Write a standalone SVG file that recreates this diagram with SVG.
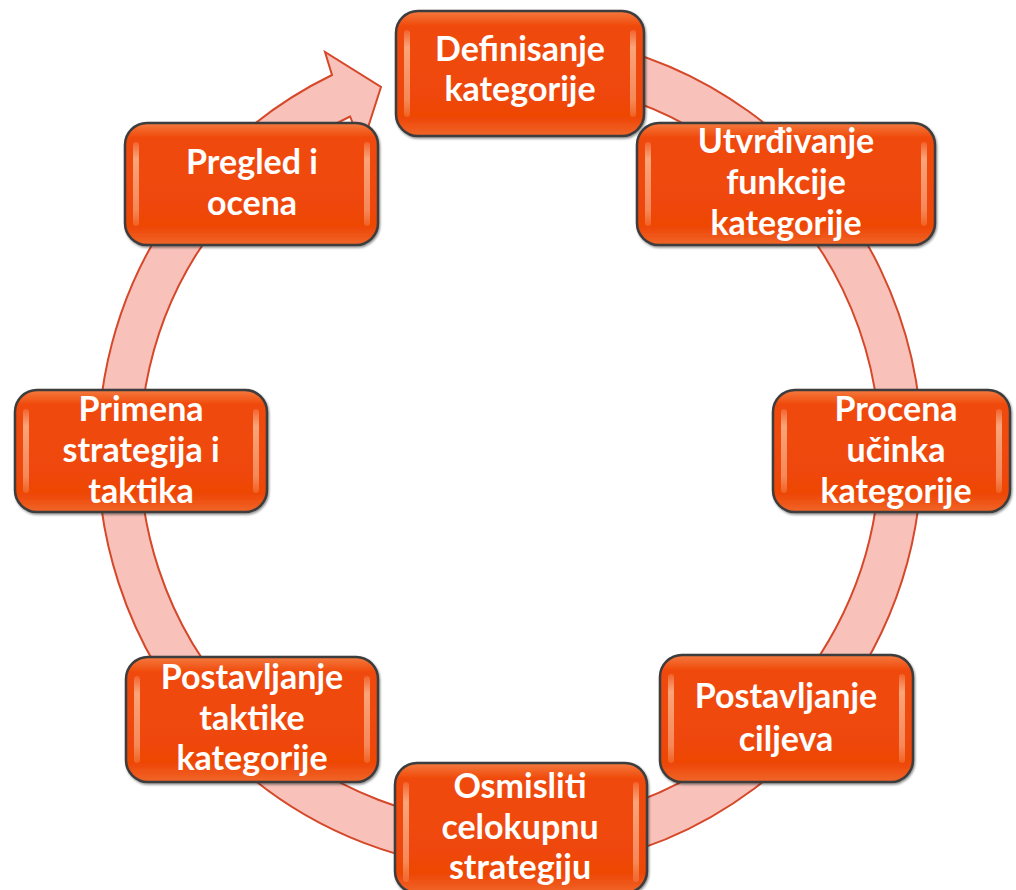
<svg xmlns="http://www.w3.org/2000/svg" width="1016" height="890" viewBox="0 0 1016 890">
<defs>
<linearGradient id="boxGrad" x1="0" y1="0" x2="0" y2="1">
<stop offset="0" stop-color="#F47A40"/>
<stop offset="0.12" stop-color="#F04A0A"/>
<stop offset="0.85" stop-color="#EE4606"/>
<stop offset="1" stop-color="#F0662A"/>
</linearGradient>
<linearGradient id="hl" x1="0" y1="0" x2="0" y2="1">
<stop offset="0" stop-color="#FBC3A0" stop-opacity="0.2"/>
<stop offset="0.2" stop-color="#FBB48C" stop-opacity="0.85"/>
<stop offset="0.8" stop-color="#FBB48C" stop-opacity="0.6"/>
<stop offset="1" stop-color="#FBC3A0" stop-opacity="0.2"/>
</linearGradient>
<filter id="sh" x="-10%" y="-10%" width="120%" height="120%">
<feDropShadow dx="1" dy="1.5" stdDeviation="1.2" flood-color="#000" flood-opacity="0.45"/>
</filter>
</defs>
<style>
.box{fill:url(#boxGrad);stroke:#3C3C3C;stroke-width:2.5;filter:url(#sh)}
.hl{fill:url(#hl)}
.t{font-family:Lato,"Open Sans","Liberation Sans",sans-serif;font-weight:700;font-size:34px;fill:#FFFFFF;text-anchor:middle}
.ring{fill:#F8C2BA;stroke:#D5482A;stroke-width:2}
</style>
<rect width="1016" height="890" fill="#FFFFFF"/>
<g id="connectors">
<path class="ring" d="M581.5 40.4 A412 418 0 1 1 332 75 L325 52 L381 87 L362 146 L350.1 116.5 A370 372 0 1 0 574.2 85.7 Z"/>
</g>
<g id="n1">
<rect class="box" x="396" y="11" width="248" height="125" rx="22"/>
<rect class="hl" x="404" y="30" width="6" height="87" rx="3"/>
<rect class="hl" x="630" y="30" width="6" height="87" rx="3"/>
<text class="t" x="520" y="61">Definisanje</text>
<text class="t" x="520" y="101">kategorije</text>
</g>
<g id="n2">
<rect class="box" x="637" y="123" width="298" height="122" rx="22"/>
<rect class="hl" x="645" y="142" width="6" height="84" rx="3"/>
<rect class="hl" x="921" y="142" width="6" height="84" rx="3"/>
<text class="t" x="786" y="153">Utvrđivanje</text>
<text class="t" x="786" y="194">funkcije</text>
<text class="t" x="786" y="235">kategorije</text>
</g>
<g id="n3">
<rect class="box" x="773" y="390" width="237" height="122" rx="22"/>
<rect class="hl" x="781" y="409" width="6" height="84" rx="3"/>
<rect class="hl" x="996" y="409" width="6" height="84" rx="3"/>
<text class="t" x="896" y="421">Procena</text>
<text class="t" x="896" y="462">učinka</text>
<text class="t" x="896" y="503">kategorije</text>
</g>
<g id="n4">
<rect class="box" x="660" y="655" width="253" height="127" rx="22"/>
<rect class="hl" x="668" y="674" width="6" height="89" rx="3"/>
<rect class="hl" x="899" y="674" width="6" height="89" rx="3"/>
<text class="t" x="786" y="708">Postavljanje</text>
<text class="t" x="786" y="751">ciljeva</text>
</g>
<g id="n5">
<rect class="box" x="395" y="763" width="252" height="130" rx="22"/>
<rect class="hl" x="403" y="782" width="6" height="100" rx="3"/>
<rect class="hl" x="633" y="782" width="6" height="100" rx="3"/>
<text class="t" x="520" y="798">Osmisliti</text>
<text class="t" x="520" y="839">celokupnu</text>
<text class="t" x="520" y="879">strategiju</text>
</g>
<g id="n6">
<rect class="box" x="126" y="657" width="252" height="125" rx="22"/>
<rect class="hl" x="134" y="676" width="6" height="87" rx="3"/>
<rect class="hl" x="364" y="676" width="6" height="87" rx="3"/>
<text class="t" x="252" y="689">Postavljanje</text>
<text class="t" x="252" y="730">taktike</text>
<text class="t" x="252" y="770">kategorije</text>
</g>
<g id="n7">
<rect class="box" x="15" y="390" width="252" height="122" rx="22"/>
<rect class="hl" x="23" y="409" width="6" height="84" rx="3"/>
<rect class="hl" x="253" y="409" width="6" height="84" rx="3"/>
<text class="t" x="141" y="421">Primena</text>
<text class="t" x="141" y="462">strategija i</text>
<text class="t" x="141" y="503">taktika</text>
</g>
<g id="n8">
<rect class="box" x="125" y="123" width="253" height="122" rx="22"/>
<rect class="hl" x="133" y="142" width="6" height="84" rx="3"/>
<rect class="hl" x="364" y="142" width="6" height="84" rx="3"/>
<text class="t" x="252" y="174">Pregled i</text>
<text class="t" x="252" y="215">ocena</text>
</g>
</svg>
